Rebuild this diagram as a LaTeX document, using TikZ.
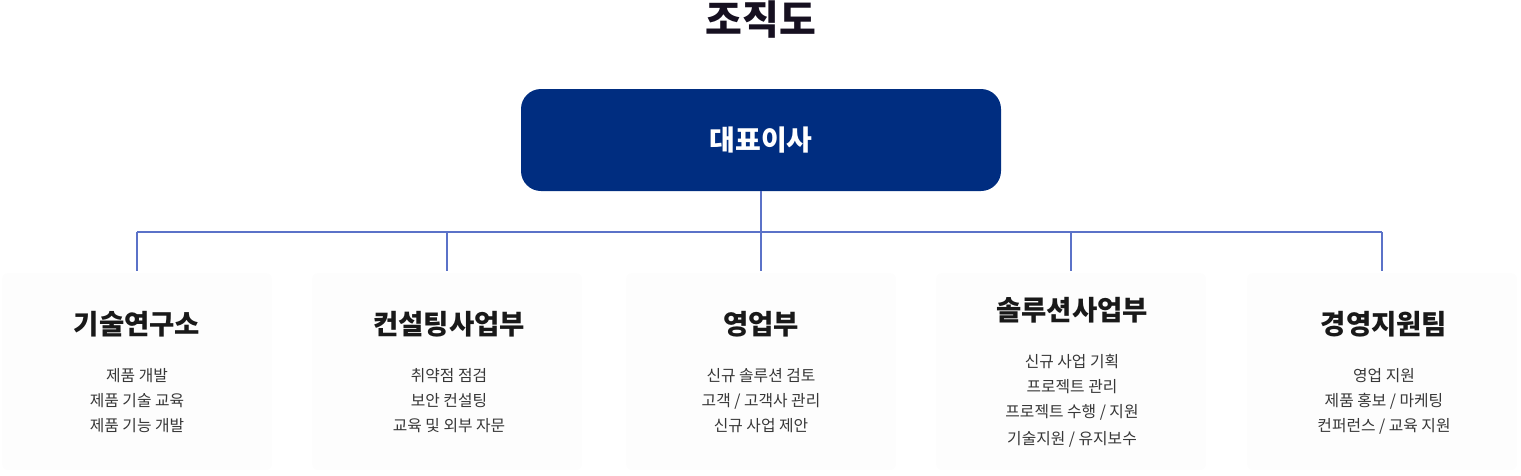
\documentclass[tikz,border=0pt]{standalone}
\usepackage{fontspec}
\setmainfont{Noto Sans CJK KR}
\definecolor{navy}{RGB}{0,45,128}
\definecolor{conncol}{RGB}{91,114,200}
\definecolor{titlecol}{RGB}{22,16,32}
\definecolor{itemcol}{RGB}{55,55,55}
\definecolor{boxbg}{RGB}{253,253,253}
\tikzset{
  deptbox/.style={draw=none, fill=boxbg, rounded corners=6pt, minimum width=270pt, minimum height=197pt, inner sep=0pt},
  depttitle/.style={font=\fontsize{27.5}{32}\selectfont\bfseries, text=black!90, inner sep=0pt},
  items/.style={font=\fontsize{15.8}{25}\selectfont, text=itemcol, align=center, inner sep=0pt},
  conn/.style={draw=conncol, line width=1.6pt},
}
\begin{document}
\begin{tikzpicture}[x=1pt,y=-1pt]
\useasboundingbox (0,0) rectangle (1521,475);
\node[font=\fontsize{40}{44}\selectfont\bfseries, text=titlecol, inner sep=0pt] (title) at (761,20) {조직도};
\node[fill=navy, rounded corners=20pt, minimum width=480pt, minimum height=102pt, inner sep=0pt,
      text=white, font=\fontsize{28}{32}\selectfont\bfseries] (ceo) at (761,140) {대표이사};
% department boxes
\node[deptbox] (d1) at (137,371.5) {};
\node[deptbox] (d2) at (447,371.5) {};
\node[deptbox] (d3) at (761,371.5) {};
\node[deptbox] (d4) at (1071,371.5) {};
\node[deptbox] (d5) at (1382,371.5) {};
% titles
\node[depttitle] (t1) at (137,324) {기술연구소};
\node[depttitle] (t2) at (449,324) {컨설팅사업부};
\node[depttitle] (t3) at (761,324) {영업부};
\node[depttitle] (t4) at (1072,310) {솔루션사업부};
\node[depttitle] (t5) at (1384,324) {경영지원팀};
% items
\node[items, anchor=north] (i1) at (137,368) {제품 개발\\제품 기술 교육\\제품 기능 개발};
\node[items, anchor=north] (i2) at (449,368) {취약점 점검\\보안 컨설팅\\교육 및 외부 자문};
\node[items, anchor=north] (i3) at (761,368) {신규 솔루션 검토\\고객 / 고객사 관리\\신규 사업 제안};
\node[items, anchor=north] (i4) at (1072,354) {신규 사업 기획\\프로젝트 관리\\프로젝트 수행 / 지원\\[2pt]기술지원 / 유지보수};
\node[items, anchor=north] (i5) at (1384,368) {영업 지원\\제품 홍보 / 마케팅\\컨퍼런스 / 교육 지원};
% connectors
\coordinate (bus) at (761,232);
\draw[conn] (ceo.south) -- (bus);
\draw[conn] (bus -| d1.north) -- (bus -| d5.north);
\draw[conn] (bus -| d1.north) -- ([yshift=2pt]d1.north);
\draw[conn] (bus -| d2.north) -- ([yshift=2pt]d2.north);
\draw[conn] (bus -| d3.north) -- ([yshift=2pt]d3.north);
\draw[conn] (bus -| d4.north) -- ([yshift=2pt]d4.north);
\draw[conn] (bus -| d5.north) -- ([yshift=2pt]d5.north);
\end{tikzpicture}
\end{document}
